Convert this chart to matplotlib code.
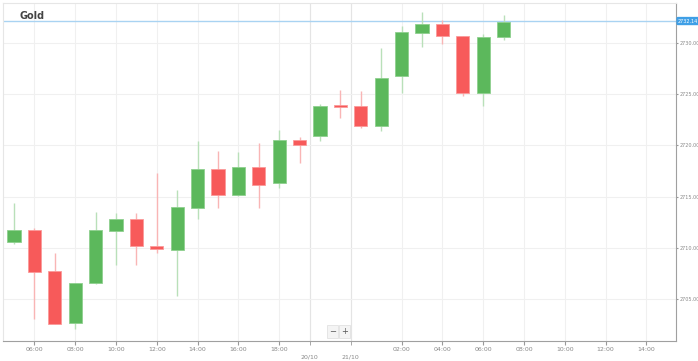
import numpy as np
import matplotlib
matplotlib.use('Agg')
import matplotlib.pyplot as plt

# Hourly OHLC for gold
opens  = [2710.52, 2711.74, 2707.72, 2702.64, 2706.56, 2711.68, 2712.85, 2710.16, 2709.80, 2713.92,
          2717.71, 2715.12, 2717.87, 2716.28, 2720.56, 2720.95, 2723.97, 2723.80, 2721.93, 2726.76,
          2730.94, 2731.82, 2730.68, 2725.10, 2730.55]
highs  = [2714.34, 2711.98, 2709.54, 2706.53, 2713.49, 2713.43, 2713.43, 2717.35, 2715.60, 2720.47,
          2719.49, 2719.36, 2720.24, 2721.54, 2720.79, 2724.07, 2725.40, 2725.30, 2729.54, 2731.65,
          2733.04, 2732.24, 2730.68, 2730.85, 2732.72]
lows   = [2710.40, 2703.00, 2702.60, 2702.08, 2706.50, 2708.31, 2708.31, 2709.54, 2705.26, 2712.85,
          2713.92, 2715.05, 2713.92, 2715.87, 2718.30, 2720.40, 2722.68, 2721.70, 2721.40, 2725.10,
          2729.64, 2729.87, 2724.78, 2723.87, 2730.29]
closes = [2711.74, 2707.66, 2702.60, 2706.53, 2711.74, 2712.85, 2710.13, 2709.86, 2714.00, 2717.71,
          2715.12, 2717.87, 2716.16, 2720.50, 2720.01, 2723.87, 2723.71, 2721.93, 2726.62, 2731.04,
          2731.82, 2730.68, 2725.16, 2730.58, 2732.07]
last_price = 2732.14

time_ticks = [1, 3, 5, 7, 9, 11, 13, 19, 21, 23, 25, 27, 29, 31]
time_labels = ['06:00', '08:00', '10:00', '12:00', '14:00', '16:00', '18:00',
               '02:00', '04:00', '06:00', '08:00', '10:00', '12:00', '14:00']
date_ticks = [14.5, 16.5]
date_labels = ['20/10', '21/10']
y_ticks = [2705, 2710, 2715, 2720, 2725, 2730]

green = '#5cb85c'
red = '#f75a5a'

fig = plt.figure(figsize=(6.98, 3.61), dpi=100)
ax = fig.add_axes([3/698, 20/361, 673/698, 338/361])

x = np.arange(len(opens))
o = np.array(opens); c = np.array(closes)
up = c >= o
cols = np.where(up, green, red)
wick_cols = np.where(up, '#b9e0b9', '#f9b5b5')

ax.vlines(x, lows, highs, colors=wick_cols, linewidth=1.0, zorder=2)
bottoms = np.minimum(o, c)
heights = np.maximum(np.abs(c - o), 0.2)
ax.bar(x, heights, bottom=bottoms, width=0.64, color=cols,
       edgecolor=np.where(up, '#8fd08f', '#fb9a9a'), linewidth=0.6, zorder=3)

# current price line and label
ax.axhline(last_price, color='#a9d3f2', linewidth=1.0, zorder=1)
ax.text(1.003, last_price, '%.2f' % last_price, transform=ax.get_yaxis_transform(),
        fontsize=3.5, color='white', va='center', ha='left',
        bbox=dict(boxstyle='round,pad=0.2', fc='#3f9fe6', ec='#3f9fe6'), clip_on=False)

ax.set_xlim(-0.54, 32.45)
ax.set_ylim(2700.9, 2733.9)

ax.yaxis.tick_right()
ax.set_yticks(y_ticks)
ax.set_yticklabels(['%.2f' % v for v in y_ticks])
ax.set_xticks(time_ticks)
ax.set_xticklabels(time_labels)
ax.set_xticks(date_ticks, minor=True)
ax.set_xticklabels(date_labels, minor=True)
ax.tick_params(axis='x', which='major', length=3, color='#999999', labelsize=4.5, labelcolor='#888888', pad=1.5)
ax.tick_params(axis='x', which='minor', length=3, color='#999999', labelsize=4.5, labelcolor='#888888', pad=7)
ax.tick_params(axis='y', length=1.5, color='#999999', labelsize=3.5, labelcolor='#888888', pad=0.8)

for t in time_ticks + date_ticks:
    ax.axvline(t, color='#f0f0f0', linewidth=0.8, zorder=0)
for t in date_ticks:
    ax.axvline(t, color='#e4e4e4', linewidth=0.8, zorder=0)
for v in y_ticks:
    ax.axhline(v, color='#f0f0f0', linewidth=0.8, zorder=0)

for s in ['top', 'left']:
    ax.spines[s].set_color('#e6e6e6')
for s in ['right', 'bottom']:
    ax.spines[s].set_color('#a0a0a0')

ax.text(0.024, 0.975, 'Gold', transform=ax.transAxes, fontsize=7, fontweight='bold',
        color='#444444', va='top', ha='left')

# zoom buttons
ax.text(0.490, 0.027, '\u2212', transform=ax.transAxes, fontsize=6, color='#555555', ha='center', va='center',
        bbox=dict(boxstyle='square,pad=0.25', fc='#f4f4f4', ec='#dddddd', lw=0.5))
ax.text(0.508, 0.027, '+', transform=ax.transAxes, fontsize=6, color='#555555', ha='center', va='center',
        bbox=dict(boxstyle='square,pad=0.25', fc='#f4f4f4', ec='#dddddd', lw=0.5))

fig.savefig('out.png', dpi=100)
